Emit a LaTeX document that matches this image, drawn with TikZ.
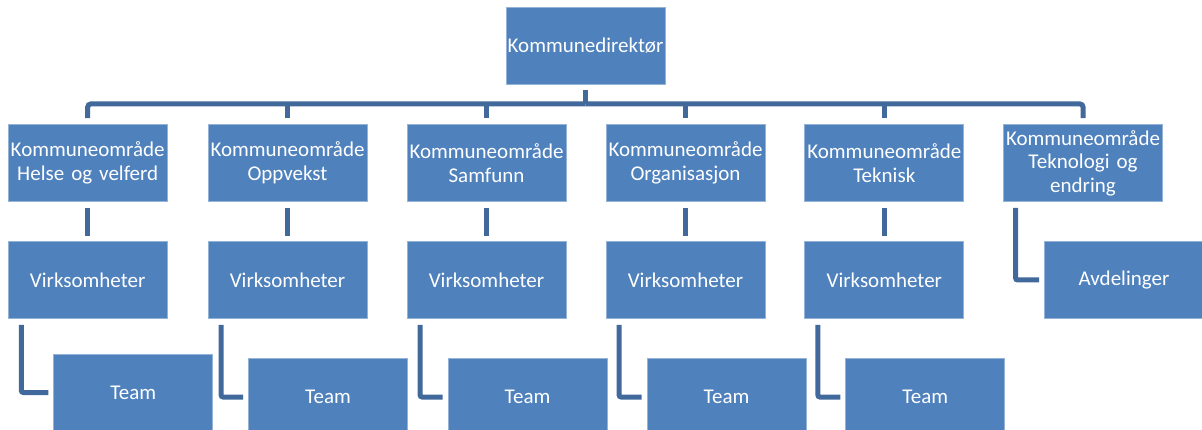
\documentclass[tikz,border=0pt]{standalone}
\usepackage{fontspec}
\setmainfont{Carlito}
\definecolor{boxblue}{HTML}{4F81BD}
\definecolor{connblue}{HTML}{41699C}
\begin{document}
\begin{tikzpicture}[x=1pt,y=-1pt,
  orgbox/.style={draw=boxblue!60!white, line width=0.8pt, fill=boxblue, text=white,
    minimum width=159pt, minimum height=77pt, text width=159pt, align=center,
    inner sep=0pt, font=\fontsize{21}{23.5}\selectfont},
  conn/.style={draw=connblue, line width=5pt},
  ]
\useasboundingbox (0,0) rectangle (1202,430);
\begin{scope}
\clip (0,0) rectangle (1202,430);
\node[orgbox] (top) at (585.5,45.5) {Kommunedirektør};
\node[orgbox] (c1) at (87.7,163) {Kommuneområde\\Helse og velferd};
\node[orgbox] (c2) at (287.5,163) {Kommuneområde\\Oppvekst};
\node[orgbox] (c3) at (486.5,163) {Kommuneområde\\Samfunn};
\node[orgbox] (c4) at (685.5,163) {Kommuneområde\\Organisasjon};
\node[orgbox] (c5) at (884.3,163) {Kommuneområde\\Teknisk};
\node[orgbox] (c6) at (1083,163) {Kommuneområde\\Teknologi og\\endring};
\node[orgbox] (v1) at (87.7,280) {Virksomheter};
\node[orgbox] (v2) at (287.5,280) {Virksomheter};
\node[orgbox] (v3) at (486.5,280) {Virksomheter};
\node[orgbox] (v4) at (685.5,280) {Virksomheter};
\node[orgbox] (v5) at (884.3,280) {Virksomheter};
\node[orgbox] (av) at (1124,280) {Avdelinger};
\node[orgbox] (t1) at (133.3,392.5) {Team};
\node[orgbox] (t2) at (328,397) {Team};
\node[orgbox] (t3) at (527.5,397) {Team};
\node[orgbox] (t4) at (726.5,397) {Team};
\node[orgbox] (t5) at (925.3,397) {Team};
\end{scope}
\coordinate (bar) at (585.5,104);
% top stem
\draw[conn, shorten <=6pt] (top.south) -- (top.south |- bar);
% bar and stems
\foreach \c in {c1,c6}{
  \draw[conn, rounded corners=3pt, shorten >=6pt] (top.south |- bar) -- (\c.north |- bar) -- (\c.north);
}
\foreach \c in {c2,c3,c4,c5}{
  \draw[conn, shorten >=6pt] (\c.north |- bar) -- (\c.north);
}
% level 1 to level 2
\foreach \i in {1,2,3,4,5}{
  \draw[conn, shorten <=6pt, shorten >=5pt] (c\i.south) -- (v\i.north);
}
% elbows
\foreach \i in {1,2,3,4,5}{
  \draw[conn, rounded corners=2pt, shorten <=6pt, shorten >=5pt] ([xshift=13.5pt]v\i.south west) |- (t\i.west);
}
\draw[conn, rounded corners=2pt, shorten <=6pt, shorten >=5pt] ([xshift=12.5pt]c6.south west) |- (av.west);
\end{tikzpicture}
\end{document}
